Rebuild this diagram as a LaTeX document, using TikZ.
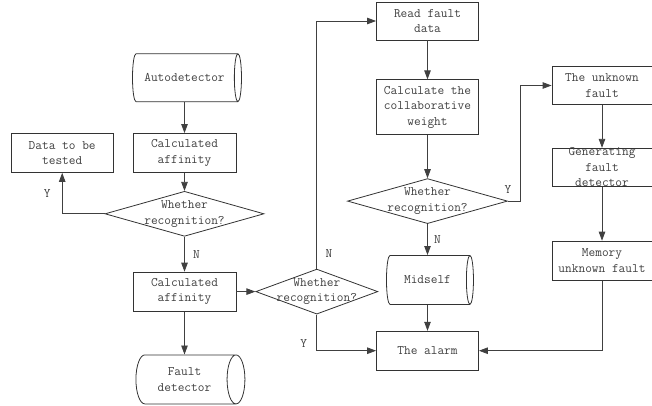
\documentclass[tikz,border=0pt]{standalone}
\usetikzlibrary{shapes}
\usetikzlibrary{positioning}
\usetikzlibrary{arrows.meta}
\tikzstyle{block} = [rectangle, draw=black!80, fill=white, line width=0.8pt,
minimum width=103pt, minimum height=39pt, inner sep=1pt, align=center,
text=black!75, font=\fontsize{13}{15.5}\ttfamily]
\tikzstyle{store} = [block, cylinder, shape border rotate=0, aspect=0.7,
minimum height=109pt, minimum width=48pt]
\tikzstyle{decision} = [block, diamond, inner sep=0pt, minimum width=159pt,
minimum height=45pt]
\tikzstyle{caption} = [text=black!75, font=\fontsize{13}{15.5}\ttfamily, align=center]
\tikzstyle{wire} = [draw=black!75, line width=0.8pt]
\tikzset{>={Triangle[length=9pt,width=6.5pt]}}
\newcommand{\flow}[3][]{ %
  % Arrow from every node in #2 to every node in #3.
  \foreach \x in {#2} { %
    \foreach \y in {#3} { %
      \path (\x) edge [wire,->,#1] (\y) ;%
    } ;
  } ;
}

\begin{document}
\begin{tikzpicture}[x=1pt, y=1pt]
  \useasboundingbox (0,0) rectangle (652,-406);

  % detector column
  \node[block] (calc1) at (184.5,-153) {Calculated\\affinity};
  \node[store, above=31pt of calc1] (auto) {Autodetector};
  \node[block, left=19pt of calc1, minimum width=102pt] (data) {Data to be\\tested};
  \node[decision, below=18pt of calc1,
    label={[caption]center:{Whether\\recognition?}}] (rec1) {};
  \node[block, below=35pt of rec1] (calc2) {Calculated\\affinity};
  \node[store, below=43pt of calc2, minimum width=49pt] (fault) {Fault\\detector};
  \node[decision, right=19pt of calc2, minimum width=122pt,
    label={[caption]center:{Whether\\recognition?}}] (rec2) {};

  % alarm column
  \node[block, minimum width=102pt, minimum height=38pt] (read) at (427.5,-21) {Read fault\\data};
  \node[block, below=39pt of read, minimum width=102pt, minimum height=55pt] (weight)
    {Calculate the\\collaborative\\weight};
  \node[decision, below=43pt of weight, minimum width=160pt,
    label={[caption]center:{Whether\\recognition?}}] (rec3) {};
  \node[store, below=31pt of rec3, minimum height=87pt, minimum width=49pt] (mid) {Midself};
  \node[block, below=26pt of mid, minimum width=102pt] (alarm) {The alarm};

  % unknown fault column
  \node[block, minimum width=100pt, minimum height=38pt] (unknown) at (602,-85.5)
    {The unknown\\fault};
  \node[block, below=43pt of unknown, minimum width=100pt, minimum height=38pt,
    label={[caption]center:{Generating\\fault\\detector}}] (gen) {};
  \node[block, below=54pt of gen, minimum width=100pt] (memory) {Memory\\unknown fault};
  \coordinate[right=12pt of rec3.east] (bend);

  \flow {auto.south} {calc1.north};
  \flow {calc1.south} {rec1.north};
  \flow {calc2.south} {fault.north};
  \flow {calc2.east} {rec2.west};
  \flow {read.south} {weight.north};
  \flow {weight.south} {rec3.north};
  \flow {mid.south} {alarm.north};
  \flow {unknown.south} {gen.north};
  \flow {gen.south} {memory.north};
  \draw[wire,->] (rec1.south) -- node[caption, right=5pt] {N} (calc2.north);
  \draw[wire,->] (rec3.south) -- node[caption, right=3pt] {N} (mid.north);
  \draw[wire,->] (rec1.west) -| node[caption, pos=0.75, left=8pt] {Y} (data.south);
  \draw[wire,->] (rec2.north) |- node[caption, pos=0.03, right=5pt] {N} (read.west);
  \draw[wire,->] (rec2.south) |- node[caption, pos=0.4, left=6pt] {Y} (alarm.west);
  \draw[wire,->] (rec3.east) node[caption, above=4pt] {Y} -- (bend) |- (unknown.west);
  \draw[wire,->] (memory.south) |- (alarm.east);
\end{tikzpicture}
\end{document}
